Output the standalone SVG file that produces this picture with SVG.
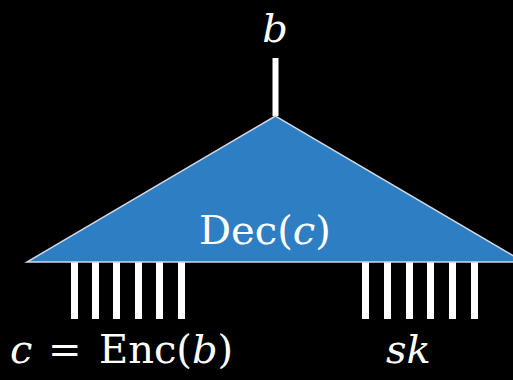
<svg xmlns="http://www.w3.org/2000/svg" width="513" height="380" viewBox="0 0 513 380">
<style>
.t{font-family:"DejaVu Serif","Liberation Serif",serif;fill:#fff;font-size:40px}
.i{font-style:italic}
.bar{fill:#fff}
</style>
<rect width="513" height="380" fill="#000"/>
<g id="connectors">
<rect class="bar" x="272.5" y="58" width="6" height="58"/>
<rect class="bar" x="71" y="262" width="7" height="57"/>
<rect class="bar" x="92" y="262" width="7" height="57"/>
<rect class="bar" x="113" y="262" width="7" height="57"/>
<rect class="bar" x="135" y="262" width="7" height="57"/>
<rect class="bar" x="156" y="262" width="7" height="57"/>
<rect class="bar" x="178" y="262" width="7" height="57"/>
<rect class="bar" x="362" y="262" width="7" height="57"/>
<rect class="bar" x="384" y="262" width="7" height="57"/>
<rect class="bar" x="406" y="262" width="7" height="57"/>
<rect class="bar" x="427" y="262" width="7" height="57"/>
<rect class="bar" x="449" y="262" width="7" height="57"/>
<rect class="bar" x="471" y="262" width="7" height="57"/>
</g>
<g id="dec">
<polygon points="275.5,116 27,262 524,262" fill="#2e7ec4" stroke="#cfd8e6" stroke-width="1.5"/>
<text class="t" x="199" y="244">Dec(<tspan class="i">c</tspan>)</text>
</g>
<g id="b"><text class="t i" x="275" y="42" text-anchor="middle">b</text></g>
<g id="enc"><text class="t" y="363"><tspan class="i" x="10">c</tspan><tspan x="48">=</tspan><tspan x="99">Enc(</tspan><tspan class="i">b</tspan><tspan>)</tspan></text></g>
<g id="sk"><text class="t i" x="386" y="363">sk</text></g>
</svg>
